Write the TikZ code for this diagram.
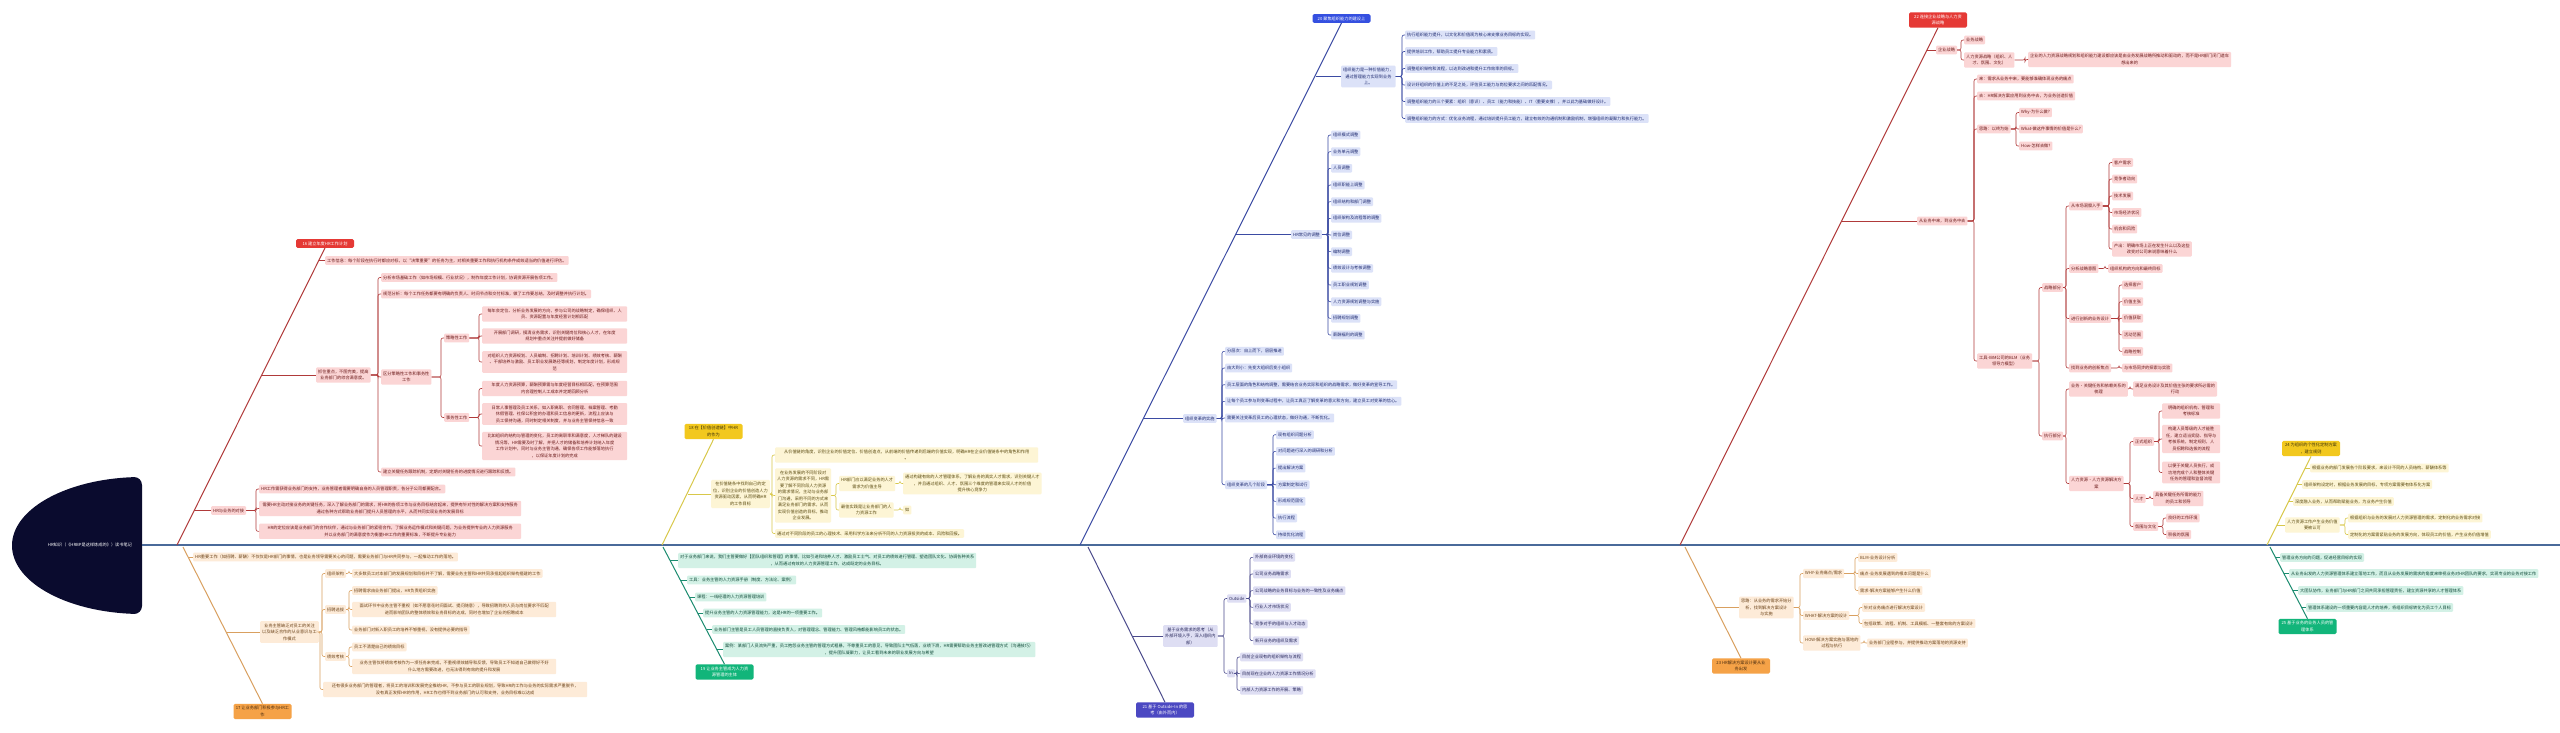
\documentclass[tikz,border=0pt]{standalone}
\usepackage{fontspec}
\newfontfamily\cjk{Noto Sans CJK SC}
\usepackage{xcolor}
\definecolor{spineC}{HTML}{4A6A9A}
\definecolor{rootF}{HTML}{0A0B2E}
\definecolor{rL}{HTML}{B03A3A}\definecolor{rH}{HTML}{E53935}\definecolor{rF}{HTML}{FBD5D5}\definecolor{rT}{HTML}{6B1A1A}
\definecolor{oL}{HTML}{D9A060}\definecolor{oH}{HTML}{F5A247}\definecolor{oF}{HTML}{FDEBD8}\definecolor{oT}{HTML}{6B4218}
\definecolor{yL}{HTML}{D8C84A}\definecolor{yH}{HTML}{F2C81E}\definecolor{yF}{HTML}{FDF5D5}\definecolor{yT}{HTML}{5A4A10}
\definecolor{gL}{HTML}{1C8C70}\definecolor{gH}{HTML}{12B57A}\definecolor{gF}{HTML}{D3F1E6}\definecolor{gT}{HTML}{0F4A38}
\definecolor{bL}{HTML}{3B4BA3}\definecolor{bH}{HTML}{3550E0}\definecolor{bF}{HTML}{DCE2F8}\definecolor{bT}{HTML}{1E2A70}
\definecolor{pL}{HTML}{4B4B8C}\definecolor{pH}{HTML}{4B48C2}\definecolor{pF}{HTML}{DEDEF3}\definecolor{pT}{HTML}{26265A}

% bracket from a parent box to one child box
\newcommand{\lnk}[3]{\draw[#1] (#2.east) -- ([xshift=-3pt]#2.east -| #3.west) |- (#3.west);}

\begin{document}
\begin{tikzpicture}[x=1pt,y=-1pt,
  box/.style={anchor=west, rounded corners=1pt, inner xsep=2pt, inner ysep=2.4pt, align=center, font=\cjk\fontsize{4.2}{6.5}\selectfont},
  title/.style={box, anchor=center, rounded corners=1.5pt, minimum width=58pt},
  wd/.style={minimum width=#1pt},
  rbox/.style={box, fill=rF, text=rT}, rtitle/.style={title, fill=rH, text=white},
  rlink/.style={draw=rL, line width=0.6pt, rounded corners=2pt}, rbone/.style={draw=rL, line width=1pt},
  obox/.style={box, fill=oF, text=oT}, otitle/.style={title, fill=oH, text=oT!70!black},
  olink/.style={draw=oL, line width=0.6pt, rounded corners=2pt}, obone/.style={draw=oL, line width=1pt},
  ybox/.style={box, fill=yF, text=yT}, ytitle/.style={title, fill=yH, text=yT!70!black},
  ylink/.style={draw=yL, line width=0.6pt, rounded corners=2pt}, ybone/.style={draw=yL, line width=1pt},
  gbox/.style={box, fill=gF, text=gT}, gtitle/.style={title, fill=gH, text=white},
  glink/.style={draw=gL, line width=0.6pt, rounded corners=2pt}, gbone/.style={draw=gL, line width=1pt},
  bbox/.style={box, fill=bF, text=bT}, btitle/.style={title, fill=bH, text=white},
  blink/.style={draw=bL, line width=0.6pt, rounded corners=2pt}, bbone/.style={draw=bL, line width=1pt},
  pbox/.style={box, fill=pF, text=pT}, ptitle/.style={title, fill=pH, text=white},
  plink/.style={draw=pL, line width=0.6pt, rounded corners=2pt}, pbone/.style={draw=pL, line width=1pt},
  spine/.style={draw=spineC, line width=1.6pt}]

\fill[white] (0,0) rectangle (2560,732);
\useasboundingbox (0,0) rectangle (2560,732);

% fish head and spine
\begin{scope}
  \clip[rounded corners=8pt] (0,477) rectangle (142,614);
  \fill[rootF] (142,545.5) ellipse [x radius=130pt, y radius=68.5pt];
\end{scope}
\node[font=\cjk\fontsize{4.2}{6.5}\selectfont, text=white] (root) at (90,545) {HR知识（《HRBP是这样炼成的》）读书笔记};
\coordinate (spineL) at (142,545);
\coordinate (spineR) at (2560,545);
\draw[spine] (spineL) -- (spineR);

% ---- 16
\coordinate (s16) at (177,545);
\node[rtitle] (t16) at (325,243.5) {16 建立年度HR工作计划};
\draw[rbone] (s16) -- (t16.south);
\node[rbox] (r16a) at (325,260.5) {工作信息：每个阶段在执行时都应对标，以“决策重要”的任务为主，对相关重要工作和执行机构条件成效适当的价值进行评估。};
\coordinate (a16a) at (319,260.5);
\draw[rlink] (a16a) -- (r16a.west);
\node[rbox] (r16b) at (316,375) {抓住重点，不图完美，提高\\业务部门的综合满意度。};
\coordinate (a16b) at (262,375);
\draw[rlink] (a16b) -- (r16b.west);
\node[rbox] (r16b1) at (381,277.5) {分析市场基础工作（如市场规模、行业状况），制作年度工作计划，协调资源开展各项工作。};
\node[rbox] (r16b2) at (381,294) {规范分析：每个工作任务都要有明确的负责人、时间节点和交付标准，做了工作要总结，及时调整并执行计划。};
\node[rbox] (r16b3) at (381,377) {区分策略性工作和事务性\\工作};
\node[rbox] (r16b4) at (381,472) {建立关键任务跟踪机制，定期对关键任务的进度情况进行跟踪和反馈。};
\foreach \c in {r16b1,r16b2,r16b3,r16b4} {\lnk{rlink}{r16b}{\c}}
\node[rbox] (r16s) at (444,338) {策略性工作};
\node[rbox] (r16t) at (444,417.5) {事务性工作};
\foreach \c in {r16s,r16t} {\lnk{rlink}{r16b3}{\c}}
\node[rbox,wd=145] (r16s1) at (482,314) {每年会定位、分析业务发展的方向，参与公司的战略制定，确保组织、人\\员、资源配置与年度经营计划相匹配};
\node[rbox,wd=145] (r16s2) at (482,336) {开展部门调研，摸清业务需求，识别关键岗位和核心人才，在年度\\规划中重点关注并提前做好储备};
\node[rbox,wd=145] (r16s3) at (482,362) {对组织人力资源规划、人员编制、招聘计划、培训计划、绩效考核、薪酬\\、干部培养与激励、员工职业发展路径等规划，制定年度计划，形成规\\范};
\foreach \c in {r16s1,r16s2,r16s3} {\lnk{rlink}{r16s}{\c}}
\node[rbox,wd=145] (r16t1) at (482,388.5) {年度人力资源预算，薪酬预算需与年度经营目标相匹配，在预算范围\\内合理控制人工成本并定期回顾分析};
\node[rbox,wd=145] (r16t2) at (482,414) {日常人事管理及员工关系，如入职离职、合同管理、档案管理、考勤\\休假管理、社保公积金的办理和员工信息的更新，流程上应该与\\员工保持沟通，同时制定相关制度，并与业务主管保持信息一致};
\node[rbox,wd=145] (r16t3) at (482,446) {比如组织的结构与管理的变化，员工的离职率和满意度，人才梯队的建设\\情况等，HR需要及时了解，并把人才的储备和培养计划纳入年度\\工作计划中，同时与业务主管沟通，确保各项工作能够落地执行\\，以保证年度计划的完成};
\foreach \c in {r16t1,r16t2,r16t3} {\lnk{rlink}{r16t}{\c}}
\node[rbox] (r16c) at (211,510.5) {HR与业务的对接};
\coordinate (a16c) at (194,510.5);
\draw[rlink] (a16c) -- (r16c.west);
\node[rbox] (r16c1) at (259,489) {HR工作需获得业务部门的支持，业务管理者需要明确自身的人员管理职责，各分子公司都要配合。};
\node[rbox,wd=262] (r16c2) at (259,508.5) {需要HR主动对接业务的关键任务，深入了解业务部门的需求，将HR的各项工作与业务目标结合起来，提供有针对性的解决方案和支持服务\\通过各种方式帮助业务部门提升人员管理的水平，从而共同实现业务的发展目标};
\node[rbox,wd=262] (r16c3) at (259,531.3) {HR的定位应该是业务部门的合作伙伴，通过与业务部门的紧密合作，了解业务运作模式和关键问题，为业务提供专业的人力资源服务\\并以业务部门的满意度作为衡量HR工作的重要标准，不断提升专业能力};
\foreach \c in {r16c1,r16c2,r16c3} {\lnk{rlink}{r16c}{\c}}

% ---- 17
\coordinate (s17) at (183,547);
\node[otitle] (t17) at (262.5,711.5) {17 让业务部门积极参与HR工\\作};
\draw[obone] (s17) -- (t17.north);
\node[obox] (o17a) at (193,557) {HR重要工作（如招聘、薪酬）不仅仅是HR部门的事情，也是业务领导需要关心的问题，需要业务部门与HR共同参与，一起推动工作的落地。};
\coordinate (a17a) at (188,557);
\draw[olink] (a17a) -- (o17a.west);
\node[obox] (o17b) at (260,632) {业务主管缺乏对员工的关注\\以及缺乏合作的从业意识与工\\作模式};
\coordinate (a17b) at (226,632);
\draw[olink] (a17b) -- (o17b.west);
\node[obox] (o17b1) at (325,573.5) {组织架构};
\node[obox] (o17b2) at (325,609.5) {招聘选拔};
\node[obox] (o17b3) at (325,656.5) {绩效考核};
\node[obox,wd=264] (o17b4) at (323,689.5) {还有很多业务部门的管理者，将员工的培训和发展完全推给HR，不参与员工的职业规划，导致HR的工作与业务的实际需求严重脱节，\\没有真正发挥HR的作用，HR工作也得不到业务部门的认可和支持，业务目标难以达成};
\foreach \c in {o17b1,o17b2,o17b3,o17b4} {\lnk{olink}{o17b}{\c}}
\node[obox] (o17b1a) at (352,573.5) {大多数员工对本部门的发展规划和目标并不了解，需要业务主管和HR共同承担起组织架构搭建的工作};
\lnk{olink}{o17b1}{o17b1a}
\node[obox] (o17b2a) at (352,590.5) {招聘需求由业务部门提出，HR负责组织实施};
\node[obox,wd=204] (o17b2b) at (352,609.5) {面试环节中业务主管不重视（如不愿意花时间面试、提问随意），导致招聘到的人员与岗位要求不匹配\\进而影响团队的整体绩效和业务目标的达成，同时也增加了企业的招聘成本};
\node[obox] (o17b2c) at (352,630) {业务部门对新入职员工的培养不够重视，没有提供必要的指导};
\foreach \c in {o17b2a,o17b2b,o17b2c} {\lnk{olink}{o17b2}{\c}}
\node[obox] (o17b3a) at (352,647) {员工不清楚自己的绩效目标};
\node[obox,wd=204] (o17b3b) at (352,666.5) {业务主管仅将绩效考核作为一项任务来完成，不重视绩效辅导和反馈，导致员工不知道自己做得好不好\\什么地方需要改进，也无法得到有效的提升和发展};
\foreach \c in {o17b3a,o17b3b} {\lnk{olink}{o17b3}{\c}}

% ---- 18
\coordinate (s18) at (662,545);
\node[ytitle] (t18) at (713.5,431.5) {18 在【价值创造链】中HR\\的作为};
\draw[ybone] (s18) -- (t18.south);
\node[ybox] (y18a) at (711,494) {在价值链条中找到自己的定\\位，识别企业的价值创造人力\\资源驱动因素，从而明确HR\\的工作目标};
\coordinate (a18a) at (688,494);
\draw[ylink] (a18a) -- (y18a.west);
\node[ybox,wd=263] (y18a1) at (775,455) {从价值链的角度，识别企业的价值定位、价值创造点，从前端的价值传递到后端的价值实现，明确HR在企业价值链条中的角色和作用\\。};
\node[ybox] (y18a2) at (775,495.5) {在业务发展的不同阶段对\\人力资源的需求不同，HR需\\要了解不同阶段人力资源\\的需求情况，主动与业务部\\门沟通，采用不同的方式来\\满足业务部门的需求，从而\\实现价值创造的目标，推动\\企业发展。};
\node[ybox] (y18a3) at (775,533.5) {通过对不同阶段的员工的心理技术、采用科学方法来分析不同的人力资源投资的成本、风险和回报。};
\foreach \c in {y18a1,y18a2,y18a3} {\lnk{ylink}{y18a}{\c}}
\node[ybox] (y18b1) at (839,483.5) {HR部门应以满足业务的人才\\需求为价值主导};
\node[ybox] (y18b2) at (839,510) {最佳实践是让业务部门的人\\力资源工作};
\foreach \c in {y18b1,y18b2} {\lnk{ylink}{y18a2}{\c}}
\node[ybox] (y18b1a) at (903,483.5) {通过构建有效的人才管理体系，了解业务的真实人才需求，识别关键人才\\，并且通过组织、人才、氛围三个维度的管理来实现人才的价值\\提升核心竞争力};
\lnk{ylink}{y18b1}{y18b1a}
\node[ybox] (y18b2a) at (903,510) {如};
\lnk{ylink}{y18b2}{y18b2a}

% ---- 19
\coordinate (s19) at (663,547);
\node[gtitle] (t19) at (724.5,672) {19 让业务主管成为人力资\\源管理的主体};
\draw[gbone] (s19) -- (t19.north);
\node[gbox] (g19a) at (678,560.5) {对于业务部门来说，我们主管要做好【团队组织和管理】的事情，比如引进和培养人才、激励员工士气、对员工的绩效进行管理、塑造团队文化、协调各种关系\\，从而通过有效的人力资源管理工作，达成既定的业务目标。};
\node[gbox] (g19b) at (687,580) {工具：业务主管的人力资源手册（制度、方法论、案例）};
\node[gbox] (g19c) at (695,597) {课程：一线经理的人力资源管理培训};
\node[gbox] (g19d) at (703,613) {提升业务主管的人力资源管理能力，这是HR的一项重要工作。};
\node[gbox] (g19e) at (712,629.5) {业务部门主管是员工人员管理的直接负责人，对管理理念、管理能力、管理风格都能影响员工的状态。};
\node[gbox] (g19f) at (723,649.5) {案例：某部门人员流失严重，员工抱怨业务主管的管理方式粗暴，不尊重员工的意见，导致团队士气低落，业绩下滑，HR需要帮助业务主管改进管理方式（沟通技巧）\\，提升团队凝聚力，让员工看到未来的职业发展方向与希望};
\coordinate (a19a) at (670,560.5);
\coordinate (a19b) at (680.5,580);
\coordinate (a19c) at (689.5,597);
\coordinate (a19d) at (698,613);
\coordinate (a19e) at (706.7,629.5);
\coordinate (a19f) at (717.3,649.5);
\foreach \k in {a,b,c,d,e,f} {\draw[glink] (a19\k) -- (g19\k.west);}

% ---- 20
\coordinate (s20) at (1080,545);
\node[btitle] (t20) at (1341.5,18.5) {20 聚焦组织能力的建设上};
\draw[bbone] (s20) -- (t20.south);
\node[bbox] (b20a) at (1341,76.5) {组织能力是一种价值能力，\\通过管理能力实现到业务\\上。};
\coordinate (a20a) at (1315.7,76.5);
\draw[blink] (a20a) -- (b20a.west);
\node[bbox] (b20a1) at (1405,35) {执行组织能力提升，以文化和价值观为核心来支撑业务目标的实现。};
\node[bbox] (b20a2) at (1405,51.5) {提供培训工作，帮助员工提升专业能力和素质。};
\node[bbox] (b20a3) at (1405,68.5) {调整组织架构和流程，以达到改进和提升工作效率的目标。};
\node[bbox] (b20a4) at (1405,85) {设计好组织的价值上的不足之处，评估员工能力与岗位要求之间的匹配情况。};
\node[bbox] (b20a5) at (1405,101.5) {调整组织能力的三个要素：组织（意识）、员工（能力和技能）、IT（重要支撑），并以此为基础做好设计。};
\node[bbox] (b20a6) at (1405,118.5) {调整组织能力的方式：优化业务流程，通过培训提升员工能力，建立有效的沟通机制和激励机制，增强组织的凝聚力和执行能力。};
\foreach \c in {b20a1,b20a2,b20a3,b20a4,b20a5,b20a6} {\lnk{blink}{b20a}{\c}}
\node[bbox] (b20b) at (1291,234.5) {HR常见的调整};
\coordinate (a20b) at (1236,234.5);
\draw[blink] (a20b) -- (b20b.west);
\foreach \t [count=\i] in {组织模式调整,业务单元调整,人员调整,组织职能上调整,组织结构和部门调整,组织架构及流程等的调整,岗位调整,编制调整,绩效设计与考核调整,员工职业规划调整,人力资源规划调整与实施,招聘规划调整,薪酬福利的调整}
{
  \node[bbox] (b20h\i) at (1331,{135+16.67*(\i-1)}) {\t};
  \lnk{blink}{b20b}{b20h\i}
}
\node[bbox] (b20c) at (1183,418.5) {组织变革的实施};
\coordinate (a20c) at (1143.6,418.5);
\draw[blink] (a20c) -- (b20c.west);
\node[bbox] (b20c1) at (1225,351.3) {分层次：自上而下，层层推进};
\node[bbox] (b20c2) at (1225,368) {由大到小：先变大组织后变小组织};
\node[bbox] (b20c3) at (1225,384.7) {员工层面的角色和结构调整，需要结合业务实际和组织的战略需求，做好变革的宣导工作。};
\node[bbox] (b20c4) at (1225,401.3) {让每个员工参与到变革过程中，让员工真正了解变革的意义和方向，建立员工对变革的信心。};
\node[bbox] (b20c5) at (1225,418) {需要关注变革后员工的心理状态，做好沟通，不断优化。};
\node[bbox] (b20c6) at (1225,484.7) {组织变革的几个阶段};
\foreach \c in {b20c1,b20c2,b20c3,b20c4,b20c5,b20c6} {\lnk{blink}{b20c}{\c}}
\foreach \t [count=\i] in {现有组织问题分析,对问题进行深入的调研和分析,提出解决方案,方案制定和试行,形成规范固化,执行流程,持续优化流程}
{
  \node[bbox] (b20s\i) at (1276,{434.7+16.67*(\i-1)}) {\t};
  \lnk{blink}{b20c6}{b20s\i}
}

% ---- 21
\coordinate (s21) at (1088,547);
\node[ptitle] (t21) at (1165,710) {21 基于 Outside-In 的思\\考（由外而内）};
\draw[pbone] (s21) -- (t21.north);
\node[pbox] (p21a) at (1163,636) {基于业务需求的思考（从\\外部环境入手，深入组织内\\部）};
\coordinate (a21a) at (1132.5,636);
\draw[plink] (a21a) -- (p21a.west);
\node[pbox] (p21o) at (1227,598.5) {Outside};
\node[pbox] (p21i) at (1227,673.3) {In};
\foreach \c in {p21o,p21i} {\lnk{plink}{p21a}{\c}}
\foreach \t [count=\i] in {外部商业环境的变化,公司业务战略需求,公司战略的业务目标与业务的一致性及业务痛点,行业人才市场状况,竞争对手的组织与人才动态,新开业务的组织及需求}
{
  \node[pbox] (p21o\i) at (1253,{557.3+16.67*(\i-1)}) {\t};
  \lnk{plink}{p21o}{p21o\i}
}
\foreach \t [count=\i] in {目前企业现有的组织架构与流程,目前现在企业的人力资源工作情况分析,内部人力资源工作的开展、策略}
{
  \node[pbox] (p21i\i) at (1240,{657+16.67*(\i-1)}) {\t};
  \lnk{plink}{p21i}{p21i\i}
}

% ---- 22
\coordinate (s22) at (1680,545);
\node[rtitle] (t22) at (1938,20) {22 连接企业战略与人力资\\源战略};
\draw[rbone] (s22) -- (t22.south);
\node[rbox] (r22a) at (1936,50) {企业战略};
\coordinate (a22a) at (1927,50);
\draw[rlink] (a22a) -- (r22a.west);
\node[rbox] (r22a1) at (1964,40) {业务战略};
\node[rbox] (r22a2) at (1964,60) {人力资源战略（组织、人\\才、氛围、文化）};
\foreach \c in {r22a1,r22a2} {\lnk{rlink}{r22a}{\c}}
\node[rbox] (r22a3) at (2028,59.5) {企业的人力资源战略规划和组织能力建设都应该是由业务发展战略所推动和驱动的，而不是HR部门闭门造车\\想出来的};
\lnk{rlink}{r22a2}{r22a3}
\node[rbox] (r22b) at (1917,221) {从业务中来，到业务中去};
\coordinate (a22b) at (1841.7,221);
\draw[rlink] (a22b) -- (r22b.west);
\node[rbox] (r22b1) at (1977,79) {来：需求从业务中来，要能够准确体现业务的痛点};
\node[rbox] (r22b2) at (1977,96) {去：HR解决方案应用到业务中去，为业务创造价值};
\node[rbox] (r22b3) at (1977,129) {思路：以终为始};
\node[rbox] (r22b4) at (1977,361) {工具-IBM公司的BLM（业务\\领导力模型）};
\foreach \c in {r22b1,r22b2,r22b3,r22b4} {\lnk{rlink}{r22b}{\c}}
\node[rbox] (r22w1) at (2019,112.5) {Why-为什么做?};
\node[rbox] (r22w2) at (2019,129) {What-做这件事情的价值是什么?};
\node[rbox] (r22w3) at (2019,146) {How-怎样去做?};
\foreach \c in {r22w1,r22w2,r22w3} {\lnk{rlink}{r22b3}{\c}}
\node[rbox] (r22s) at (2042,287.5) {战略部分};
\node[rbox] (r22e) at (2042,436) {执行部分};
\foreach \c in {r22s,r22e} {\lnk{rlink}{r22b4}{\c}}
\node[rbox] (r22s1) at (2069,206) {从市场洞察入手};
\node[rbox] (r22s2) at (2069,268.5) {分析战略意图};
\node[rbox] (r22s3) at (2069,318.5) {进行创新的业务设计};
\node[rbox] (r22s4) at (2069,368) {找到业务的创新焦点};
\foreach \c in {r22s1,r22s2,r22s3,r22s4} {\lnk{rlink}{r22s}{\c}}
\foreach \t/\yy [count=\i] in {客户需求/162.5,竞争者动向/179,技术发展/196,市场经济状况/212.5,机会和风险/229,{产出：明确市场上正在发生什么以及这些\\改变对公司来说意味着什么}/249}
{
  \node[rbox] (r22m\i) at (2112,\yy) {\t};
  \lnk{rlink}{r22s1}{r22m\i}
}
\node[rbox] (r22s2a) at (2108,268.5) {组织机构的方向和最终目标};
\lnk{rlink}{r22s2}{r22s2a}
\foreach \t [count=\i] in {选择客户,价值主张,价值获取,活动范围,战略控制}
{
  \node[rbox] (r22v\i) at (2122,{285+16.6*(\i-1)}) {\t};
  \lnk{rlink}{r22s3}{r22v\i}
}
\node[rbox] (r22s4a) at (2122,368) {与市场同步的探索与实验};
\lnk{rlink}{r22s4}{r22s4a}
\node[rbox] (r22e1) at (2069,389) {业务·关键任务和依赖关系的\\梳理};
\node[rbox] (r22e2) at (2069,483.5) {人力资源·人力资源解决方\\案};
\foreach \c in {r22e1,r22e2} {\lnk{rlink}{r22e}{\c}}
\node[rbox] (r22e1a) at (2133,389) {满足业务设计及其价值主张的要求所必需的\\行动};
\lnk{rlink}{r22e1}{r22e1a}
\node[rbox] (r22o) at (2133,441.5) {正式组织};
\node[rbox] (r22t) at (2133,498.5) {人才};
\node[rbox] (r22c) at (2133,526.5) {氛围与文化};
\foreach \c in {r22o,r22t,r22c} {\lnk{rlink}{r22e2}{\c}}
\node[rbox,wd=58] (r22o1) at (2162,411) {明确的组织机构、管理和\\考核标准};
\node[rbox,wd=58] (r22o2) at (2162,439) {构建人员等级的人才能胜\\任，建立适当奖励、指导与\\考核系统，制定规则，人\\员招聘和选拔的流程};
\node[rbox,wd=58] (r22o3) at (2162,472.5) {以便于关键人员执行，成\\功地完成个人和整体关键\\任务的管理和监督流程};
\foreach \c in {r22o1,r22o2,r22o3} {\lnk{rlink}{r22o}{\c}}
\node[rbox] (r22t1) at (2153,498.5) {具备关键任务所需的能力\\的员工和领导};
\lnk{rlink}{r22t}{r22t1}
\node[rbox] (r22c1) at (2166,518) {良好的工作环境};
\node[rbox] (r22c2) at (2166,534.5) {积极的氛围};
\foreach \c in {r22c1,r22c2} {\lnk{rlink}{r22c}{\c}}

% ---- 23
\coordinate (s23) at (1685,547);
\node[otitle] (t23) at (1741,666) {23 HR解决方案设计要从业\\务出发};
\draw[obone] (s23) -- (t23.north);
\node[obox] (o23a) at (1739,607.5) {思路：从业务的需求开始分\\析，找到解决方案设计\\与实施};
\coordinate (a23a) at (1715,607.5);
\draw[olink] (a23a) -- (o23a.west);
\node[obox] (o23w) at (1803,573.5) {WHY-业务痛点/需求};
\node[obox] (o23t) at (1803,615.5) {WHAT-解决方案的设计};
\node[obox] (o23h) at (1803,643) {HOW-解决方案实施与落地的\\过程与执行};
\foreach \c in {o23w,o23t,o23h} {\lnk{olink}{o23a}{\c}}
\node[obox] (o23w1) at (1858,557.5) {BLM-业务设计分析};
\node[obox] (o23w2) at (1858,573.5) {痛点-业务发展遇到的根本问题是什么};
\node[obox] (o23w3) at (1858,590.5) {需求-解决方案能够产生什么价值};
\foreach \c in {o23w1,o23w2,o23w3} {\lnk{olink}{o23w}{\c}}
\node[obox] (o23t1) at (1862,607.5) {针对业务痛点进行解决方案设计};
\node[obox] (o23t2) at (1862,623.5) {包括政策、流程、机制、工具模板、一整套有效的方案设计};
\foreach \c in {o23t1,o23t2} {\lnk{olink}{o23t}{\c}}
\node[obox] (o23h1) at (1867,643) {业务部门全程参与，并提供推动方案落地的资源支持};
\lnk{olink}{o23h}{o23h1}

% ---- 24
\coordinate (s24) at (2267,545);
\node[ytitle] (t24) at (2311,448.5) {24 为组织的个性化定制方案\\，建立规则};
\draw[ybone] (s24) -- (t24.south);
\node[ybox] (y24a) at (2310,468) {根据业务的部门发展各个阶段要求，来设计不同的人员结构、薪酬体系等};
\node[ybox] (y24b) at (2302,484.5) {组织架构设定时，根据业务发展的目标，专项方案需要有体系化方案};
\node[ybox] (y24c) at (2293,501.5) {深度融入业务，从而帮助赋能业务，为业务产生价值};
\node[ybox] (y24d) at (2285,525) {人力资源工作产生业务价值\\要被认可};
\coordinate (a24a) at (2304.6,468);
\coordinate (a24b) at (2296.6,484.5);
\coordinate (a24c) at (2288,501.5);
\coordinate (a24d) at (2277,525);
\foreach \k in {a,b,c,d} {\draw[ylink] (a24\k) -- (y24\k.west);}
\node[ybox] (y24d1) at (2348,518) {根据组织与业务的发展对人力资源管理的需求，定制化的业务需求对接};
\node[ybox] (y24d2) at (2348,534.5) {定制化的方案需紧贴业务的发展方向，体现员工的价值，产生业务价值增值};
\foreach \c in {y24d1,y24d2} {\lnk{ylink}{y24d}{\c}}

% ---- 25
\coordinate (s25) at (2270,547);
\node[gtitle] (t25) at (2307.5,626.5) {25 基于业务的业务人员的管\\理体系};
\draw[gbone] (s25) -- (t25.north);
\node[gbox] (g25a) at (2280,557.5) {管理业务方向的问题，促进经营目标的实现};
\node[gbox] (g25b) at (2289,573.5) {从业务出发的人力资源管理体系建立落地工作，而且从业务发展的需求的角度来审视业务对HR团队的要求，实现专业的业务对接工作};
\node[gbox] (g25c) at (2298,590.5) {大团队协作，业务部门与HR部门之间共同承担管理责任，建立资源共享的人才管理体系};
\node[gbox] (g25d) at (2306,607.5) {管理体系建设的一项重要内容是人才的培养，将组织目标转化为员工个人目标};
\coordinate (a25a) at (2275.5,557.5);
\coordinate (a25b) at (2284,573.5);
\coordinate (a25c) at (2292.7,590.5);
\coordinate (a25d) at (2301.5,607.5);
\foreach \k in {a,b,c,d} {\draw[glink] (a25\k) -- (g25\k.west);}
\end{tikzpicture}
\end{document}
